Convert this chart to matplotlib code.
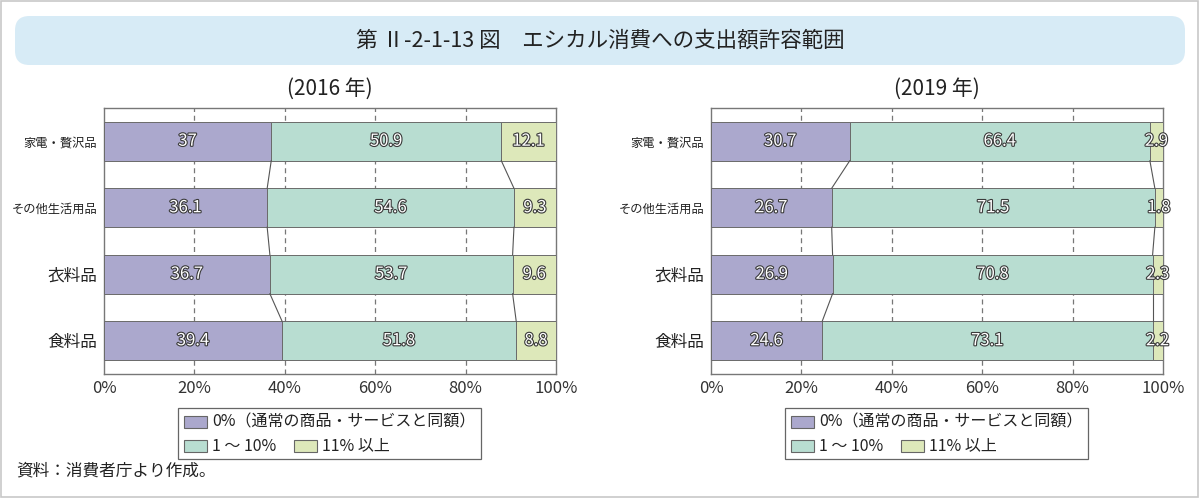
import matplotlib
matplotlib.use("Agg")
import matplotlib.pyplot as plt
import matplotlib.patheffects as pe
from matplotlib.patches import FancyBboxPatch, Rectangle

plt.rcParams['font.family'] = ['Noto Sans CJK JP', 'DejaVu Sans']

categories = ['家電・贅沢品', 'その他生活用品', '衣料品', '食料品']
series_names = ['0%（通常の商品・サービスと同額）', '1 ～ 10%', '11% 以上']
colors = ['#aba8cd', '#b8ddd1', '#dde8ba']
years = ['(2016 年)', '(2019 年)']
vals_2016 = [
    [37.0, 36.1, 36.7, 39.4],
    [50.9, 54.6, 53.7, 51.8],
    [12.1, 9.3, 9.6, 8.8],
]
vals_2019 = [
    [30.7, 26.7, 26.9, 24.6],
    [66.4, 71.5, 70.8, 73.1],
    [2.9, 1.8, 2.3, 2.2],
]
xticks = [0, 20, 40, 60, 80, 100]
xticklabels = ['0%', '20%', '40%', '60%', '80%', '100%']
title = '第 Ⅱ-2-1-13 図　エシカル消費への支出額許容範囲'
source = '資料：消費者庁より作成。'

W, H = 1200, 498
fig = plt.figure(figsize=(W / 100, H / 100), dpi=100)

def fx(px):
    return px / W

def fy(py):
    return 1 - py / H

# outer frame
fig.add_artist(Rectangle((fx(1), fy(497)), fx(1197), fy(1) - fy(497),
                         transform=fig.transFigure, fill=False,
                         edgecolor='#c8c8c8', linewidth=1.2))
# title box
fig.add_artist(FancyBboxPatch((fx(15), fy(65)), fx(1170), fy(16) - fy(65),
                              boxstyle='round,pad=0,rounding_size=0.012',
                              transform=fig.transFigure, facecolor='#d7ebf6',
                              edgecolor='none', mutation_aspect=W / H))
fig.text(0.5, fy(41), title, ha='center', va='center', fontsize=15.5, color='#222222')

ax_lefts = [104, 711]
ax_w = 452
ax_top, ax_bot = 108, 374
bar_h = 0.585

for k, (ax_left, vals, yr) in enumerate(zip(ax_lefts, [vals_2016, vals_2019], years)):
    ax = fig.add_axes([fx(ax_left), fy(ax_bot), fx(ax_w), fy(ax_top) - fy(ax_bot)])
    ax.set_xlim(0, 100)
    ax.set_ylim(3.5, -0.5)
    y = list(range(len(categories)))
    left = [0.0] * len(categories)
    bounds = []
    for s, (name, col) in enumerate(zip(series_names, colors)):
        ax.barh(y, vals[s], left=left, height=bar_h, color=col, edgecolor='#6a6a6a',
                linewidth=0.7, zorder=3)
        for i, v in enumerate(vals[s]):
            ax.text(left[i] + v / 2, i, f'{v:g}', ha='center', va='center', fontsize=12,
                    color='white', zorder=5,
                    path_effects=[pe.withStroke(linewidth=1.6, foreground='#3a3a3a')])
        left = [l + v for l, v in zip(left, vals[s])]
        bounds.append(list(left))
    # connector lines
    for b in bounds[:2]:
        for i in range(len(categories) - 1):
            ax.plot([b[i], b[i + 1]], [i + bar_h / 2, i + 1 - bar_h / 2], color='#555555',
                    linewidth=0.8, zorder=4)
    for xv in xticks[1:-1]:
        ax.axvline(xv, color='#777777', linewidth=0.9, linestyle=(0, (4, 3)), zorder=1)
    ax.set_xticks(xticks)
    ax.set_xticklabels(xticklabels, fontsize=12, color='#333333')
    ax.set_yticks(y)
    ax.set_yticklabels(categories, color='#222222')
    for lab, c in zip(ax.get_yticklabels(), categories):
        lab.set_fontsize(8.8 if len(c) > 3 else 12)
    ax.tick_params(length=0, pad=5)
    ax.tick_params(axis='x', pad=4)
    for sp in ax.spines.values():
        sp.set_color('#777777')
        sp.set_linewidth(1.0)
    cx = ax_left + ax_w / 2
    fig.text(fx(cx), fy(89), yr, ha='center', va='center', fontsize=15, color='#222222')

    # legend (manual)
    lx0 = cx - 152
    fig.add_artist(Rectangle((fx(lx0), fy(459)), fx(303), fy(408) - fy(459),
                             transform=fig.transFigure, fill=False,
                             edgecolor='#666666', linewidth=0.9))
    items = [(0, lx0 + 6, 422), (1, lx0 + 6, 446), (2, lx0 + 116, 446)]
    for s, px, py in items:
        fig.add_artist(Rectangle((fx(px), fy(py + 6)), fx(23), fy(py - 6) - fy(py + 6),
                                 transform=fig.transFigure, facecolor=colors[s],
                                 edgecolor='#666666', linewidth=0.8))
        fig.text(fx(px + 28), fy(py), series_names[s], ha='left', va='center',
                 fontsize=11.5, color='#222222')

fig.text(fx(16), fy(471), source, ha='left', va='center', fontsize=12, color='#222222')

fig.savefig('out.png', dpi=100)
